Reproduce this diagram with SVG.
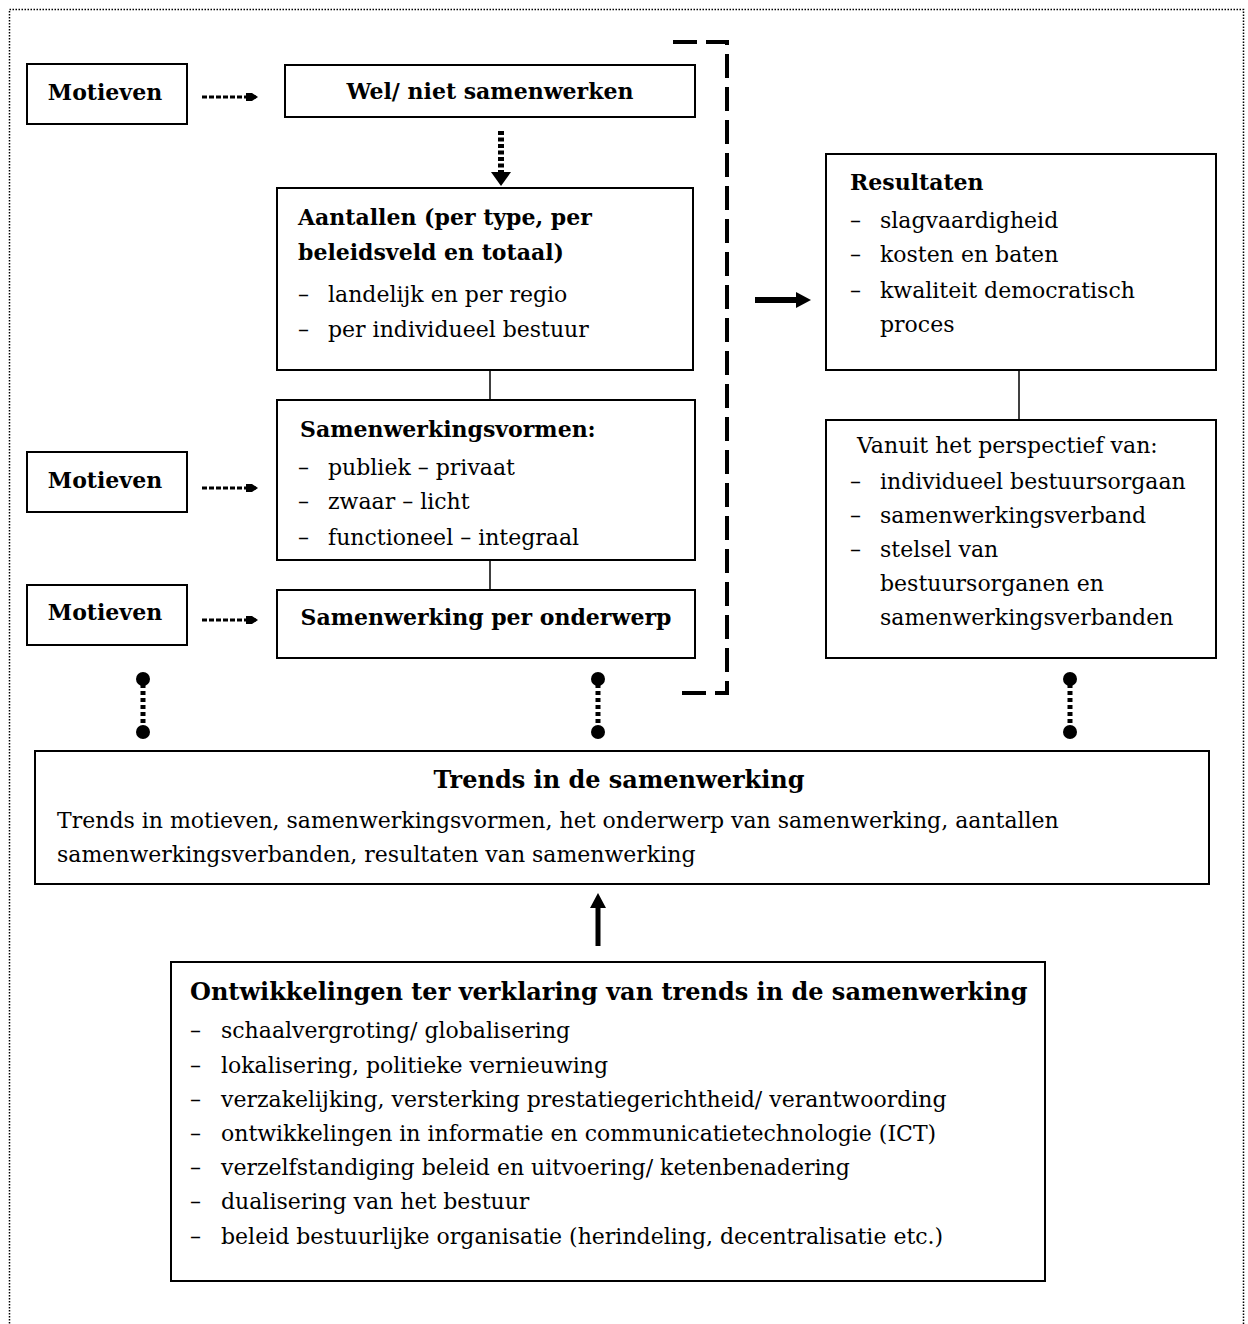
<svg xmlns="http://www.w3.org/2000/svg" width="1248" height="1324" viewBox="0 0 1248 1324">
<defs>
<style>
.box{fill:#fff;stroke:#000;stroke-width:2}
.t{font-family:"DejaVu Serif","Liberation Serif",serif;font-size:22px;fill:#000}
.b{font-family:"DejaVu Serif","Liberation Serif",serif;font-size:22px;font-weight:bold;fill:#000}
.big{font-size:24px}
.dash{stroke:#000;stroke-width:3;stroke-dasharray:5 2;fill:none}
.dot{stroke:#000;stroke-width:5;stroke-dasharray:4 3;fill:none}
.solid{stroke:#000;stroke-width:1.5;fill:none}
</style>
<marker id="sh" viewBox="0 0 12 12" refX="12" refY="6" markerWidth="12" markerHeight="12" markerUnits="userSpaceOnUse" orient="auto">
<path d="M0,2 L6,2 L12,6 L6,10 L0,10 Z" fill="#000"/>
</marker>
</defs>
<rect x="9.5" y="9.5" width="1234" height="1340" fill="none" stroke="#000" stroke-width="1.5" stroke-dasharray="1.5 1.5"/>

<g id="motieven1"><rect class="box" x="27" y="64" width="160" height="60"/><text class="b" x="105" y="100" text-anchor="middle">Motieven</text></g>
<g id="wel-niet"><rect class="box" x="285" y="65" width="410" height="52"/><text class="b" x="490" y="99" text-anchor="middle">Wel/ niet samenwerken</text></g>
<g id="aantallen"><rect class="box" x="277" y="188" width="416" height="182"/>
<text class="b" x="298" y="225">Aantallen (per type, per</text>
<text class="b" x="298" y="260">beleidsveld en totaal)</text>
<text class="t" x="298" y="302">–</text><text class="t" x="328" y="302">landelijk en per regio</text>
<text class="t" x="298" y="337">–</text><text class="t" x="328" y="337">per individueel bestuur</text>
</g>
<g id="samenwerkingsvormen"><rect class="box" x="277" y="400" width="418" height="160"/>
<text class="b" x="300" y="437">Samenwerkingsvormen:</text>
<text class="t" x="298" y="475">–</text><text class="t" x="328" y="475">publiek – privaat</text>
<text class="t" x="298" y="509">–</text><text class="t" x="328" y="509">zwaar – licht</text>
<text class="t" x="298" y="545">–</text><text class="t" x="328" y="545">functioneel – integraal</text>
</g>
<g id="motieven2"><rect class="box" x="27" y="452" width="160" height="60"/><text class="b" x="105" y="488" text-anchor="middle">Motieven</text></g>
<g id="motieven3"><rect class="box" x="27" y="585" width="160" height="60"/><text class="b" x="105" y="620" text-anchor="middle">Motieven</text></g>
<g id="onderwerp"><rect class="box" x="277" y="590" width="418" height="68"/><text class="b" x="486" y="625" text-anchor="middle">Samenwerking per onderwerp</text></g>
<g id="resultaten"><rect class="box" x="826" y="154" width="390" height="216"/>
<text class="b" x="850" y="190">Resultaten</text>
<text class="t" x="850" y="228">–</text><text class="t" x="880" y="228">slagvaardigheid</text>
<text class="t" x="850" y="262">–</text><text class="t" x="880" y="262">kosten en baten</text>
<text class="t" x="850" y="298">–</text><text class="t" x="880" y="298">kwaliteit democratisch</text>
<text class="t" x="880" y="332">proces</text>
</g>
<g id="perspectief"><rect class="box" x="826" y="420" width="390" height="238"/>
<text class="t" x="857" y="453">Vanuit het perspectief van:</text>
<text class="t" x="850" y="489">–</text><text class="t" x="880" y="489">individueel bestuursorgaan</text>
<text class="t" x="850" y="523">–</text><text class="t" x="880" y="523">samenwerkingsverband</text>
<text class="t" x="850" y="557">–</text><text class="t" x="880" y="557">stelsel van</text>
<text class="t" x="880" y="591">bestuursorganen en</text>
<text class="t" x="880" y="625">samenwerkingsverbanden</text>
</g>
<g id="trends"><rect class="box" x="35" y="751" width="1174" height="133"/>
<text class="b big" x="619" y="788" text-anchor="middle">Trends in de samenwerking</text>
<text class="t" x="57" y="828">Trends in motieven, samenwerkingsvormen, het onderwerp van samenwerking, aantallen</text>
<text class="t" x="57" y="862">samenwerkingsverbanden, resultaten van samenwerking</text>
</g>
<g id="ontwikkelingen"><rect class="box" x="171" y="962" width="874" height="319"/>
<text class="b big" x="190" y="1000">Ontwikkelingen ter verklaring van trends in de samenwerking</text>
<text class="t" x="190" y="1038">–</text><text class="t" x="221" y="1038">schaalvergroting/ globalisering</text>
<text class="t" x="190" y="1073">–</text><text class="t" x="221" y="1073">lokalisering, politieke vernieuwing</text>
<text class="t" x="190" y="1107">–</text><text class="t" x="221" y="1107">verzakelijking, versterking prestatiegerichtheid/ verantwoording</text>
<text class="t" x="190" y="1141">–</text><text class="t" x="221" y="1141">ontwikkelingen in informatie en communicatietechnologie (ICT)</text>
<text class="t" x="190" y="1175">–</text><text class="t" x="221" y="1175">verzelfstandiging beleid en uitvoering/ ketenbenadering</text>
<text class="t" x="190" y="1209">–</text><text class="t" x="221" y="1209">dualisering van het bestuur</text>
<text class="t" x="190" y="1244">–</text><text class="t" x="221" y="1244">beleid bestuurlijke organisatie (herindeling, decentralisatie etc.)</text>
</g>

<g id="connectors">
<line class="dash" x1="202" y1="97" x2="258" y2="97" marker-end="url(#sh)"/>
<line class="dash" x1="202" y1="488" x2="258" y2="488" marker-end="url(#sh)"/>
<line class="dash" x1="202" y1="620" x2="258" y2="620" marker-end="url(#sh)"/>
<line x1="501" y1="131" x2="501" y2="173" stroke="#000" stroke-width="6" stroke-dasharray="4 2.5"/>
<path d="M491,172 L511,172 L501,186 Z" fill="#000"/>
<line class="solid" x1="490" y1="370" x2="490" y2="400"/>
<line class="solid" x1="490" y1="560" x2="490" y2="590"/>
<line class="solid" x1="1019" y1="370" x2="1019" y2="420"/>
<path d="M673,42 H727 V693 H675" fill="none" stroke="#000" stroke-width="4" stroke-dasharray="24 9"/>
<line x1="755" y1="300" x2="800" y2="300" stroke="#000" stroke-width="6"/>
<path d="M796,292 L811,300 L796,308 Z" fill="#000"/>
<line x1="598" y1="946" x2="598" y2="905" stroke="#000" stroke-width="5"/>
<path d="M590,908 L598,893 L606,908 Z" fill="#000"/>
<g>
<line class="dot" x1="143" y1="684" x2="143" y2="726"/><circle cx="143" cy="679" r="7"/><circle cx="143" cy="732" r="7"/>
<line class="dot" x1="598" y1="684" x2="598" y2="726"/><circle cx="598" cy="679" r="7"/><circle cx="598" cy="732" r="7"/>
<line class="dot" x1="1070" y1="684" x2="1070" y2="726"/><circle cx="1070" cy="679" r="7"/><circle cx="1070" cy="732" r="7"/>
</g>
</g>
</svg>
